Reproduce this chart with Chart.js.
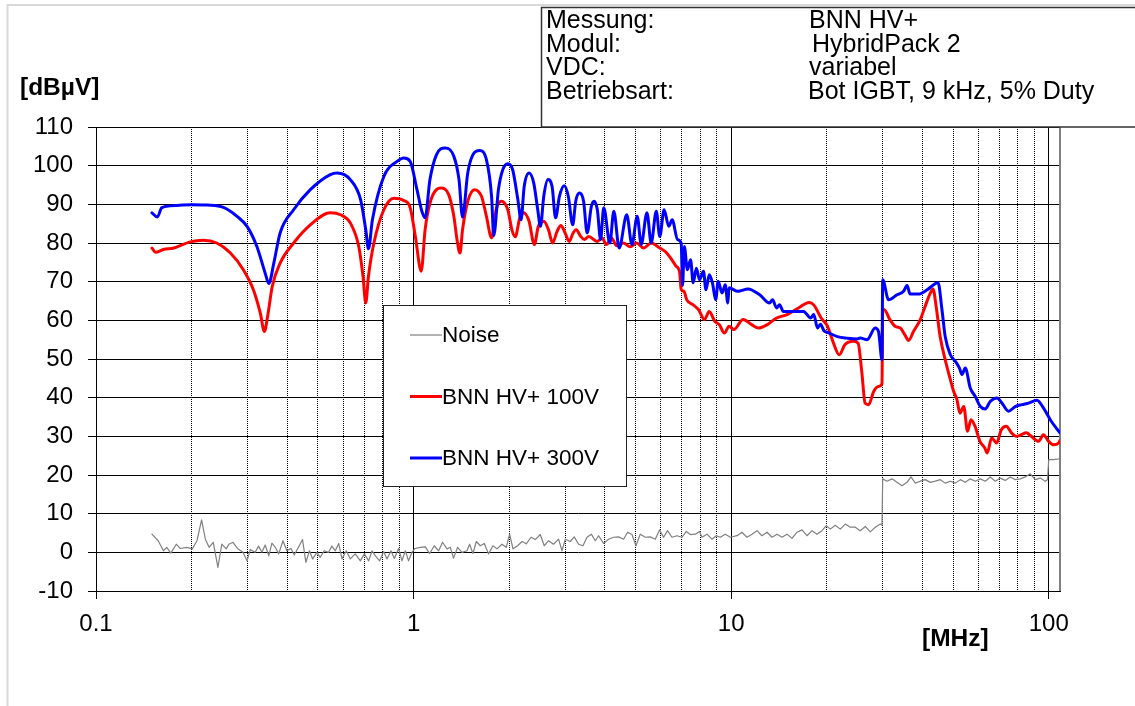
<!DOCTYPE html>
<html>
<head>
<meta charset="utf-8">
<script src="https://cdn.jsdelivr.net/npm/chart.js@4/dist/chart.umd.min.js"></script>
<style>
html,body{margin:0;padding:0;background:#fff;}
#wrap{position:relative;width:1135px;height:706px;}
</style>
</head>
<body>
<div id="wrap"><canvas id="emc" width="1135" height="706"></canvas></div>
<script>
/* DATA */
const headerKeys=['Messung:','Modul:','VDC:','Betriebsart:'];
const headerVals=['BNN HV+','HybridPack 2','variabel','Bot IGBT, 9 kHz, 5% Duty'];
const xDecades=[0.1,1,10,100];
const yUnit='[dBµV]', xUnit='[MHz]';

const freqNoise=[0.150,0.157,0.163,0.167,0.172,0.179,0.184,0.193,0.201,0.208,0.215,0.221,0.227,0.234,0.242,0.249,0.257,0.262,0.270,0.279,
0.290,0.299,0.306,0.317,0.325,0.333,0.341,0.350,0.358,0.367,0.376,0.388,0.399,0.411,0.421,0.434,0.447,0.458,0.470,0.481,
0.496,0.508,0.523,0.540,0.553,0.567,0.581,0.595,0.614,0.632,0.655,0.680,0.700,0.722,0.740,0.758,0.782,0.805,0.825,0.849,
0.870,0.897,0.919,0.942,0.964,0.989,1.01,1.05,1.089,1.123,1.162,1.199,1.234,1.274,1.305,1.336,1.376,1.421,1.473,1.501,
1.538,1.576,1.622,1.670,1.722,1.778,1.831,1.898,1.958,2.006,2.056,2.126,2.195,2.264,2.343,2.417,2.506,2.579,2.661,2.759,
2.861,2.933,3.004,3.115,3.206,3.307,3.415,3.516,3.627,3.734,3.824,3.965,4.111,4.264,4.421,4.584,4.719,4.872,5.015,5.174,
5.365,5.563,5.768,5.950,6.125,6.306,6.510,6.752,7.001,7.224,7.435,7.709,7.952,8.09,8.39,8.70,8.98,9.24,9.58,9.94,
10.43,10.81,11.21,11.63,12.06,12.50,12.97,13.45,13.94,14.46,14.99,15.54,16.12,16.71,17.33,17.97,18.63,19.32,19.93,20.51,
21.27,22.06,22.87,23.71,24.59,25.50,26.44,27.41,28.43,29.48,29.85,30.0,30.94,32.09,33.27,34.50,35.78,36.83,38.00,39.40,
40.85,42.37,43.93,45.55,47.23,48.98,50.78,52.66,54.60,56.62,58.71,60.88,63.13,65.46,67.87,70.37,72.97,75.66,78.45,81.35,
84.34,87.46,90.68,94.04,97.50,99.1,100.0,103.7,108.5];
const noiseVals=[4.7,3.0,0.4,1.3,-0.2,2.1,1.0,1.3,0.9,3.0,8.4,3.4,1.3,2.6,-3.9,2.1,0.9,2.1,2.6,1.0,
0.0,-2.2,0.7,0.0,1.6,0.0,1.9,-0.9,2.4,1.3,-0.4,3.0,0.4,1.0,-0.7,1.3,3.3,-2.6,0.4,-1.7,
0.0,-1.3,0.4,0.0,1.6,0.4,2.3,-1.7,0.4,-1.7,-0.4,-2.2,-0.4,-2.2,0.4,-0.9,-2.2,0.2,-1.7,0.4,
-1.6,1.0,-2.2,0.4,-2.2,0.0,1.0,1.3,1.4,-0.3,1.7,0.4,2.6,0.9,1.3,-1.5,1.3,0.0,0.4,2.1,
-0.3,2.8,1.7,2.3,-0.4,1.7,0.9,2.1,1.3,4.7,0.9,1.7,2.8,2.2,3.9,3.3,4.6,1.7,3.0,2.1,
3.4,0.4,3.4,2.8,4.0,2.1,1.7,3.9,4.7,3.0,4.3,2.3,3.4,3.9,4.0,3.4,5.2,4.6,1.7,4.7,
3.9,4.0,3.4,5.8,3.9,5.6,3.9,4.3,3.9,5.4,4.6,4.7,5.4,3.9,4.7,3.4,4.3,3.9,4.7,3.9,
4.3,5.2,3.9,4.7,5.6,4.3,5.2,3.9,4.7,3.9,4.7,3.6,5.2,5.8,4.3,5.6,4.7,5.6,6.9,6.0,
7.0,6.0,7.3,6.5,6.5,5.6,6.7,5.3,6.5,7.3,7.0,19.0,18.4,19.0,18.1,17.2,18.1,19.5,17.9,18.4,
18.8,18.1,18.4,18.8,17.9,18.4,17.9,18.8,18.1,19.0,18.4,19.0,18.4,19.5,18.4,19.2,18.6,19.5,18.8,19.0,
19.5,20.3,18.8,19.2,18.4,18.8,24.0,24.0,24.2];

const freq100=[0.150,0.154,0.163,0.176,0.198,0.218,0.240,0.265,0.291,0.313,0.329,0.339,0.347,0.359,0.380,0.419,0.473,0.547,0.589,0.632,
0.672,0.693,0.707,0.721,0.750,0.806,0.867,0.931,0.976,1.013,1.057,1.087,1.126,1.18,1.22,1.29,1.339,1.37,1.40,1.426,
1.481,1.555,1.636,1.696,1.76,1.82,1.89,1.98,2.04,2.09,2.16,2.22,2.31,2.40,2.47,2.57,2.66,2.74,2.83,2.91,
3.00,3.09,3.18,3.25,3.36,3.45,3.56,3.78,3.92,4.05,4.20,4.36,4.58,4.81,5.04,5.30,5.60,5.96,6.2,6.45,
6.71,6.88,6.96,7.1,7.25,7.59,7.89,8.24,8.53,8.89,9.18,9.52,9.85,10.2,10.9,11.6,12.2,13.0,13.9,15.0,
16.3,17.6,18.2,19.2,20.1,21.0,21.9,22.8,24.2,25.1,25.8,26.4,27.1,28.1,29.1,29.85,30.0,30.3,31.6,32.9,
34.1,35.2,36.2,37.5,39.4,40.8,42.4,43.2,44.2,45.5,47.2,48.7,50.2,51.4,52.5,54.0,55.5,56.9,58.6,60.7,
62.9,64.0,66.1,68.5,70.9,73.5,76.3,79.0,81.9,85.0,88.1,92.9,96.2,99.9,103.6,107.5,108.5];
const bnn100=[78.7,77.6,78.3,78.7,80.3,80.7,80.0,77.4,73.1,67.9,61.9,57.1,61.0,68.8,74.8,80.0,84.7,87.8,87.3,85.2,
79.1,71.4,64.5,71.4,80.0,88.6,91.6,91.0,89.1,81.7,72.7,83.4,90.3,93.8,94.2,92.5,86.9,80.9,77.4,83.4,
90.8,93.8,92.1,86.9,81.3,88.6,90.8,88.6,83.4,81.6,86.5,87.8,85.6,79.6,84.3,85.6,83.4,80.0,83.0,84.5,
82.6,80.4,82.6,83.4,81.7,80.9,81.7,80.4,81.3,79.6,81.3,79.3,80.0,79.0,80.0,78.7,80.0,78.7,77.8,76.1,
74.0,72.5,68.0,67.5,65.3,64.0,62.8,60.2,62.3,59.7,58.9,56.7,58.5,57.6,60.2,58.9,58.0,58.9,60.6,61.5,
63.2,64.6,64.0,60.6,58.5,54.1,51.1,53.7,54.6,54.1,46.4,38.6,38.2,41.6,42.9,43.6,62.8,62.8,60.2,58.4,
58.0,56.3,54.8,57.1,60.2,63.6,67.1,68.1,63.6,55.8,49.8,45.5,41.6,39.5,36.0,37.7,31.3,34.3,32.6,28.7,
27.0,25.7,29.6,28.3,31.7,32.6,30.9,30.0,30.4,30.9,30.0,28.7,30.4,28.7,27.8,28.3,28.9];

const freq300=[0.150,0.156,0.161,0.171,0.200,0.224,0.252,0.278,0.299,0.321,0.341,0.350,0.363,0.380,0.419,0.473,0.547,0.575,0.632,0.681,
0.707,0.721,0.742,0.806,0.887,0.932,0.976,1.025,1.062,1.087,1.126,1.18,1.258,1.339,1.39,1.426,1.481,1.537,1.615,1.696,
1.76,1.788,1.85,1.91,1.98,2.05,2.13,2.18,2.23,2.31,2.39,2.46,2.51,2.57,2.65,2.73,2.80,2.88,2.98,3.07,
3.17,3.24,3.33,3.43,3.52,3.63,3.70,3.79,3.88,3.97,4.15,4.27,4.44,4.69,4.87,5.06,5.21,5.43,5.60,5.81,
5.96,6.15,6.36,6.52,6.78,6.96,7.03,7.12,7.28,7.45,7.59,7.77,7.95,8.18,8.33,8.53,8.73,8.94,9.10,9.36,
9.58,9.76,9.85,10.5,11.3,12.3,13.2,13.5,13.9,14.2,14.6,15.7,16.9,17.8,18.2,18.7,19.1,19.6,20.1,21.6,
23.2,24.9,25.5,26.8,28.4,29.1,29.85,30.0,31.3,33.3,34.9,35.8,36.6,38.9,41.4,43.4,44.8,46.1,47.2,49.0,
50.8,52.3,53.3,54.6,56.6,58.7,60.9,63.1,65.4,68.7,71.2,74.7,78.4,82.3,86.4,91.8,96.3,101.1,106.1,108.5];
const bnn300=[87.8,86.7,89.1,89.6,89.9,89.8,89.2,86.9,84.3,79.1,72.2,69.5,74.8,82.6,88.6,93.8,97.7,98.1,96.4,91.2,
83.4,78.5,86.0,97.2,101.1,102.0,101.1,93.8,88.2,86.5,96.4,102.8,104.6,102.4,96.4,86.7,98.1,102.8,103.9,101.5,
92.1,81.9,93.8,99.0,100.5,99.0,91.2,86.0,94.6,98.1,95.5,88.6,84.3,92.1,96.4,94.6,86.5,92.1,94.8,92.1,
84.7,90.8,92.9,90.8,82.6,89.5,90.8,88.6,80.9,89.1,80.0,88.2,78.7,87.3,79.6,86.9,79.6,87.8,80.0,88.2,
81.7,88.6,84.3,86.0,80.9,80.0,69.0,79.1,73.1,75.7,69.7,73.5,70.5,72.7,67.9,71.8,69.7,65.3,70.1,67.1,
69.2,64.5,68.4,67.5,68.1,66.6,64.5,65.3,63.2,64.0,62.3,62.3,62.3,60.6,61.5,58.0,59.0,57.3,56.9,55.8,
55.4,55.2,55.4,55.0,58.0,57.1,49.8,70.5,65.3,66.6,67.5,69.0,66.8,66.8,67.9,69.2,69.8,62.8,55.8,51.1,
49.4,47.7,46.0,47.7,42.5,40.3,37.7,37.1,39.0,39.9,38.6,36.5,37.7,38.2,38.6,39.3,37.3,34.3,31.9,30.9];

/* SETUP */
const FONT="'Liberation Sans', Arial, sans-serif";
const xGrid=[];
xDecades.forEach(d=>{for(let m=1;m<=9;m++){const v=+(m*d).toPrecision(3);if(v<=108.5)xGrid.push(v);}});
const isMajor=v=>xDecades.includes(v);
const pts=(f,v)=>f.map((x,i)=>({x,y:v[i]}));

const decor={
  id:'decor',
  beforeDraw(c){
    const g=c.ctx;
    g.save();
    g.strokeStyle='#d9d9d9';g.lineWidth=2;
    g.beginPath();g.moveTo(1135,5);g.lineTo(7.5,5);g.lineTo(7.5,706);g.stroke();
    g.restore();
  },
  beforeDatasetsDraw(c){
    const g=c.ctx,a=c.chartArea;
    g.save();
    g.strokeStyle='#808080';g.lineWidth=2;
    g.beginPath();g.moveTo(a.right,a.top);g.lineTo(a.right,a.bottom);g.stroke();
    g.restore();
  },
  afterDraw(c){
    const g=c.ctx;
    g.save();
    // header box
    g.fillStyle='#fff';g.fillRect(541,7,600,120);
    g.strokeStyle='#333';g.lineWidth=1.5;
    g.beginPath();g.moveTo(1140,7.5);g.lineTo(541.5,7.5);g.lineTo(541.5,127);g.lineTo(1140,127);g.stroke();
    g.fillStyle='#000';g.font='25px '+FONT;g.textBaseline='alphabetic';
    const hx=[809,812,809,808];
    headerKeys.forEach((k,i)=>{
      const y=28.3+i*23.5;
      g.fillText(k,546,y);g.fillText(headerVals[i],hx[i],y);
    });
    // unit labels
    g.font='bold 24.5px '+FONT;
    g.fillText(yUnit,20,95);
    g.fillText(xUnit,922,646);
    // legend
    g.fillStyle='#fff';g.fillRect(383,305,243,181);
    g.strokeStyle='#222';g.lineWidth=1;g.strokeRect(383.5,305.5,243,181);
    g.font='22.5px '+FONT;g.textBaseline='middle';
    c.data.datasets.forEach((ds,i)=>{
      const y=335+i*61.5;
      g.strokeStyle=ds.borderColor;g.lineWidth=ds.borderWidth;
      g.beginPath();g.moveTo(410,y);g.lineTo(442,y);g.stroke();
      g.fillStyle='#000';g.fillText(ds.label,442,y+1);
    });
    g.restore();
  }
};

/* CHART */
new Chart(document.getElementById('emc'),{
  type:'line',
  data:{datasets:[
    {label:'Noise',data:pts(freqNoise,noiseVals),borderColor:'#808080',borderWidth:1.2,order:3},
    {label:'BNN HV+ 100V',data:pts(freq100,bnn100),borderColor:'#ff0000',borderWidth:3,order:2,cubicInterpolationMode:'monotone'},
    {label:'BNN HV+ 300V',data:pts(freq300,bnn300),borderColor:'#0000ff',borderWidth:3,order:1,cubicInterpolationMode:'monotone'},
  ]},
  options:{
    responsive:false,animation:false,
    devicePixelRatio:1,
    elements:{point:{radius:0},line:{tension:0,borderJoinStyle:'round',borderCapStyle:'round'}},
    layout:{padding:{top:127,right:75,left:0,bottom:0}},
    plugins:{legend:{display:false},tooltip:{enabled:false}},
    scales:{
      x:{type:'logarithmic',min:0.1,max:108.5,
        afterBuildTicks(s){s.ticks=xGrid.map(v=>({value:v,major:isMajor(v)}));},
        afterFit(s){s.height=115;},
        ticks:{autoSkip:false,maxRotation:0,minRotation:0,padding:11,color:'#000',font:{family:FONT,size:24},
          callback:v=>isMajor(v)?String(v):''},
        grid:{color:'#000',lineWidth:1,tickLength:8,
          tickColor:ctx=>ctx.tick&&isMajor(ctx.tick.value)?'#000':'rgba(0,0,0,0)'},
        border:{color:'#000',width:1,dash:ctx=>ctx.tick&&!isMajor(ctx.tick.value)?[1,1]:[]}
      },
      y:{min:-10,max:110,
        afterFit(s){s.width=96;},
        ticks:{stepSize:10,padding:15,color:'#000',font:{family:FONT,size:24}},
        grid:{color:'#000',lineWidth:1,tickLength:8,tickColor:'#000'},
        border:{color:'#000',width:1}
      }
    }
  },
  plugins:[decor]
});
</script>
</body>
</html>
